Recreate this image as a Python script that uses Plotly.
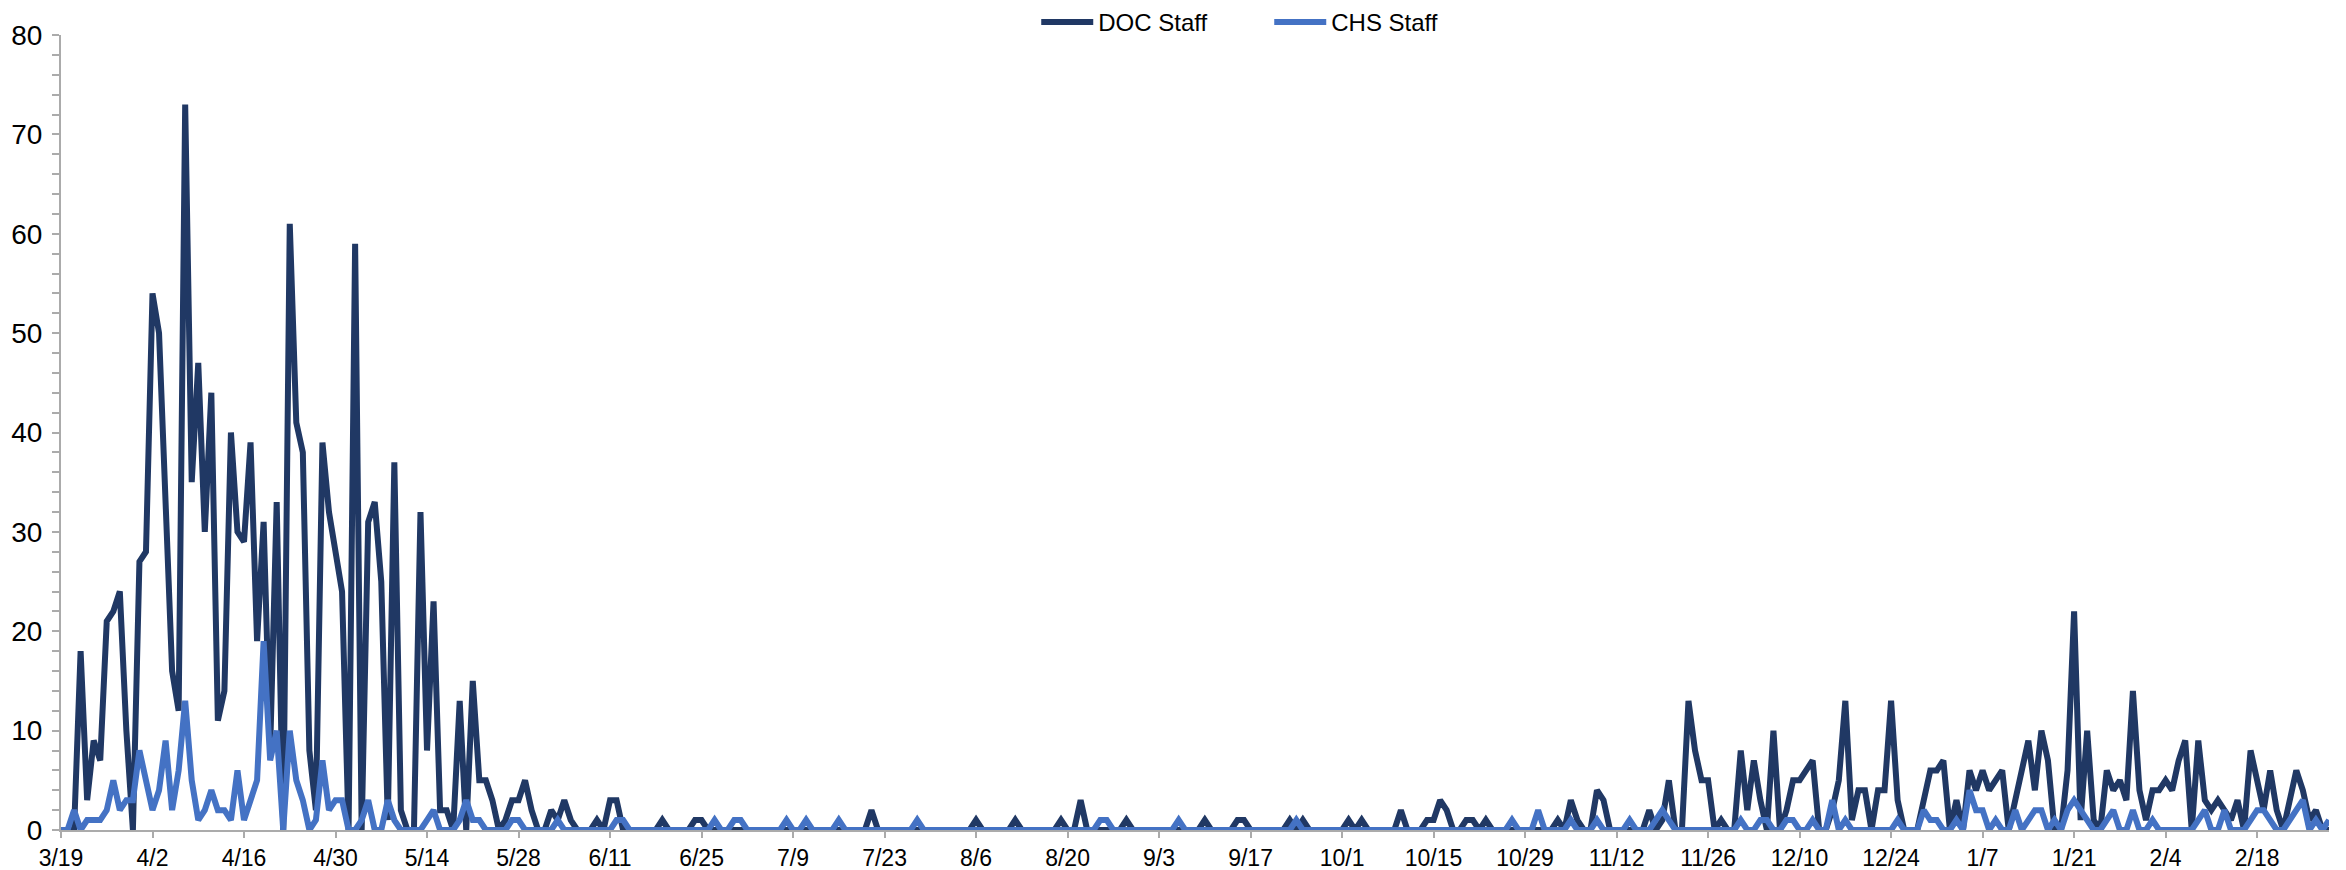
import pandas as pd
import plotly.graph_objects as go

START_DATE = "2020-03-19"

DOC_STAFF = [
    0, 0, 0, 18, 3, 9, 7, 21, 22, 24,
    10, 0, 27, 28, 54, 50, 32, 16, 12, 73,
    35, 47, 30, 44, 11, 14, 40, 30, 29, 39,
    19, 31, 8, 33, 0, 61, 41, 38, 8, 2,
    39, 32, 28, 24, 0, 59, 0, 31, 33, 25,
    1, 37, 2, 0, 0, 32, 8, 23, 2, 2,
    0, 13, 0, 15, 5, 5, 3, 0, 1, 3,
    3, 5, 2, 0, 0, 2, 1, 3, 1, 0,
    0, 0, 1, 0, 3, 3, 0, 0, 0, 0,
    0, 0, 1, 0, 0, 0, 0, 1, 1, 0,
    0, 0, 0, 0, 0, 0, 0, 0, 0, 0,
    0, 0, 0, 0, 0, 0, 0, 0, 0, 0,
    0, 0, 0, 0, 2, 0, 0, 0, 0, 0,
    0, 0, 0, 0, 0, 0, 0, 0, 0, 0,
    1, 0, 0, 0, 0, 0, 1, 0, 0, 0,
    0, 0, 0, 1, 0, 0, 3, 0, 0, 0,
    0, 0, 0, 1, 0, 0, 0, 0, 0, 0,
    0, 0, 0, 0, 0, 1, 0, 0, 0, 0,
    1, 1, 0, 0, 0, 0, 0, 0, 1, 0,
    1, 0, 0, 0, 0, 0, 0, 1, 0, 1,
    0, 0, 0, 0, 0, 2, 0, 0, 0, 1,
    1, 3, 2, 0, 0, 1, 1, 0, 1, 0,
    0, 0, 0, 0, 0, 0, 0, 0, 0, 1,
    0, 3, 1, 0, 0, 4, 3, 0, 0, 0,
    0, 0, 0, 2, 0, 1, 5, 0, 0, 13,
    8, 5, 5, 0, 1, 0, 0, 8, 2, 7,
    3, 0, 10, 0, 2, 5, 5, 6, 7, 0,
    0, 2, 5, 13, 1, 4, 4, 0, 4, 4,
    13, 3, 0, 0, 0, 3, 6, 6, 7, 0,
    3, 0, 6, 4, 6, 4, 5, 6, 0, 3,
    6, 9, 4, 10, 7, 0, 0, 6, 22, 1,
    10, 1, 0, 6, 4, 5, 3, 14, 4, 1,
    4, 4, 5, 4, 7, 9, 0, 9, 3, 2,
    3, 2, 1, 3, 0, 8, 5, 2, 6, 2,
    0, 3, 6, 4, 1, 2, 0, 0,
]

CHS_STAFF = [
    0, 0, 2, 0, 1, 1, 1, 2, 5, 2,
    3, 3, 8, 5, 2, 4, 9, 2, 6, 13,
    5, 1, 2, 4, 2, 2, 1, 6, 1, 3,
    5, 19, 7, 10, 0, 10, 5, 3, 0, 1,
    7, 2, 3, 3, 0, 0, 1, 3, 0, 0,
    3, 1, 0, 0, 0, 0, 1, 2, 0, 0,
    0, 1, 3, 1, 1, 0, 0, 0, 0, 1,
    1, 0, 0, 0, 0, 0, 1, 0, 0, 0,
    0, 0, 0, 0, 0, 1, 1, 0, 0, 0,
    0, 0, 0, 0, 0, 0, 0, 0, 0, 0,
    1, 0, 0, 1, 1, 0, 0, 0, 0, 0,
    0, 1, 0, 0, 1, 0, 0, 0, 0, 1,
    0, 0, 0, 0, 0, 0, 0, 0, 0, 0,
    0, 1, 0, 0, 0, 0, 0, 0, 0, 0,
    0, 0, 0, 0, 0, 0, 0, 0, 0, 0,
    0, 0, 0, 0, 0, 0, 0, 0, 0, 1,
    1, 0, 0, 0, 0, 0, 0, 0, 0, 0,
    0, 1, 0, 0, 0, 0, 0, 0, 0, 0,
    0, 0, 0, 0, 0, 0, 0, 0, 0, 1,
    0, 0, 0, 0, 0, 0, 0, 0, 0, 0,
    0, 0, 0, 0, 0, 0, 0, 0, 0, 0,
    0, 0, 0, 0, 0, 0, 0, 0, 0, 0,
    0, 0, 1, 0, 0, 0, 2, 0, 0, 0,
    0, 1, 0, 0, 0, 1, 0, 0, 0, 0,
    1, 0, 0, 0, 1, 2, 1, 0, 0, 0,
    0, 0, 0, 0, 0, 0, 0, 1, 0, 0,
    1, 1, 0, 0, 1, 1, 0, 0, 1, 0,
    0, 3, 0, 1, 0, 0, 0, 0, 0, 0,
    0, 1, 0, 0, 0, 2, 1, 1, 0, 0,
    1, 0, 4, 2, 2, 0, 1, 0, 0, 2,
    0, 1, 2, 2, 0, 1, 0, 2, 3, 2,
    1, 0, 0, 1, 2, 0, 0, 2, 0, 0,
    1, 0, 0, 0, 0, 0, 0, 1, 2, 0,
    0, 2, 0, 0, 0, 1, 2, 2, 1, 0,
    0, 1, 2, 3, 0, 1, 0, 1,
]

TICK_DATES = [
    "2020-03-19", "2020-04-02", "2020-04-16", "2020-04-30", "2020-05-14",
    "2020-05-28", "2020-06-11", "2020-06-25", "2020-07-09", "2020-07-23",
    "2020-08-06", "2020-08-20", "2020-09-03", "2020-09-17", "2020-10-01",
    "2020-10-15", "2020-10-29", "2020-11-12", "2020-11-26", "2020-12-10",
    "2020-12-24", "2021-01-07", "2021-01-21", "2021-02-04", "2021-02-18",
]
TICK_LABELS = [
    "3/19", "4/2", "4/16", "4/30", "5/14", "5/28", "6/11", "6/25", "7/9",
    "7/23", "8/6", "8/20", "9/3", "9/17", "10/1", "10/15", "10/29", "11/12",
    "11/26", "12/10", "12/24", "1/7", "1/21", "2/4", "2/18",
]

dates = pd.date_range(START_DATE, periods=len(DOC_STAFF), freq="D")

FONT = "Liberation Sans, Arial, sans-serif"
AXIS_GRAY = "#ABABAB"

fig = go.Figure()
fig.add_trace(go.Scatter(x=dates, y=DOC_STAFF, mode="lines", name="DOC Staff",
                         line=dict(color="#203864", width=6)))
fig.add_trace(go.Scatter(x=dates, y=CHS_STAFF, mode="lines", name="CHS Staff",
                         line=dict(color="#4472C4", width=6)))

fig.update_layout(
    width=2346, height=870,
    margin=dict(l=53, r=25, t=27, b=48, autoexpand=False),
    paper_bgcolor="white", plot_bgcolor="white",
    font=dict(family=FONT, size=22, color="#000000"),
    showlegend=True,
    legend=dict(orientation="h", x=0.430, xanchor="left", y=1.016, yanchor="middle",
                font=dict(family=FONT, size=24, color="#000000"),
                bgcolor="rgba(0,0,0,0)", itemwidth=52, tracegroupgap=0,
                entrywidth=166, entrywidthmode="pixels"),
)
fig.update_xaxes(
    type="date",
    range=[dates[0], dates[-1]],
    tickmode="array", tickvals=pd.to_datetime(TICK_DATES), ticktext=TICK_LABELS,
    showgrid=False, zeroline=False,
    showline=True, linecolor=AXIS_GRAY, linewidth=2,
    ticks="outside", ticklen=6, tickwidth=2, tickcolor=AXIS_GRAY,
    ticklabelstandoff=0,
    tickfont=dict(family=FONT, size=23, color="#000000"),
)
fig.update_yaxes(
    range=[0, 80], dtick=10, tick0=0,
    showgrid=False, zeroline=False,
    showline=True, linecolor=AXIS_GRAY, linewidth=2,
    ticks="outside", ticklen=7, tickwidth=2, tickcolor=AXIS_GRAY,
    minor=dict(dtick=2, ticks="outside", ticklen=7, tickwidth=2, tickcolor=AXIS_GRAY, showgrid=False),
    ticklabelstandoff=4,
    tickfont=dict(family=FONT, size=28, color="#000000"),
)

fig.write_html("out.html")
